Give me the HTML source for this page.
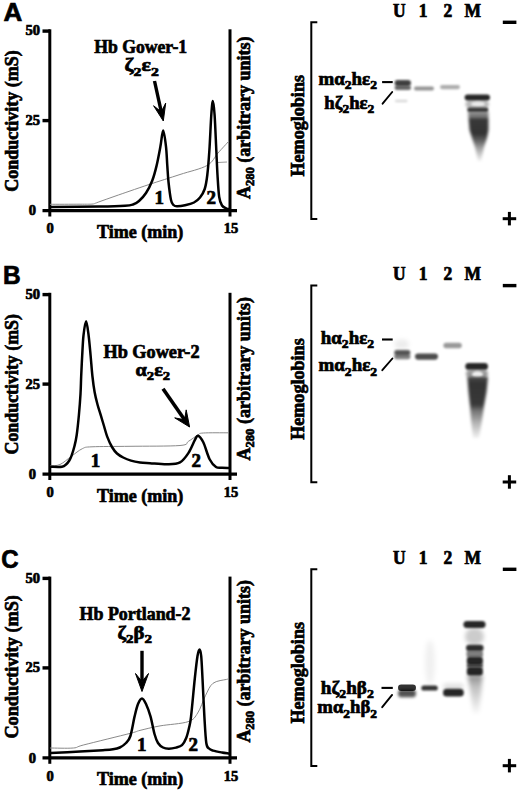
<!DOCTYPE html>
<html><head><meta charset="utf-8"><style>
html,body{margin:0;padding:0;background:#fff;width:520px;height:790px;overflow:hidden}
text{fill:#000;stroke:#000;stroke-width:0.7px}
</style></head><body>
<svg width="520" height="790" viewBox="0 0 520 790" style="position:absolute;left:0;top:0">
<defs>
<filter id="b5" x="-50%" y="-50%" width="200%" height="200%"><feGaussianBlur stdDeviation="0.5"/></filter>
<filter id="b8" x="-50%" y="-50%" width="200%" height="200%"><feGaussianBlur stdDeviation="0.8"/></filter>
<filter id="b10" x="-50%" y="-50%" width="200%" height="200%"><feGaussianBlur stdDeviation="1.0"/></filter>
<filter id="b12" x="-50%" y="-50%" width="200%" height="200%"><feGaussianBlur stdDeviation="1.2"/></filter>
<filter id="b15" x="-50%" y="-50%" width="200%" height="200%"><feGaussianBlur stdDeviation="1.5"/></filter>
<filter id="b20" x="-50%" y="-50%" width="200%" height="200%"><feGaussianBlur stdDeviation="2.0"/></filter>
<filter id="b25" x="-50%" y="-50%" width="200%" height="200%"><feGaussianBlur stdDeviation="2.5"/></filter>
<filter id="b30" x="-50%" y="-50%" width="200%" height="200%"><feGaussianBlur stdDeviation="3.0"/></filter>
<filter id="b40" x="-50%" y="-50%" width="200%" height="200%"><feGaussianBlur stdDeviation="4.0"/></filter>
</defs>
<rect width="520" height="790" fill="#fff"/>
<g fill="#000">
<text x="0" y="0" font-size="25" font-family='"Liberation Sans", sans-serif' font-weight="bold" transform="translate(3.6 20.6) scale(1.04 1)">A</text>
<line x1="49.8" y1="29.3" x2="49.8" y2="216.5" stroke="#000" stroke-width="3"/>
<line x1="42.5" y1="31.1" x2="50" y2="31.1" stroke="#000" stroke-width="3.4"/>
<line x1="42.5" y1="120.6" x2="50" y2="120.6" stroke="#000" stroke-width="3.4"/>
<line x1="42.5" y1="210.6" x2="237" y2="210.6" stroke="#000" stroke-width="3.2"/>
<line x1="230" y1="29.3" x2="230" y2="216.5" stroke="#000" stroke-width="3"/>
<text x="40" y="35.3" font-size="14.5" text-anchor="end" font-family='"Liberation Serif", serif' font-weight="bold" >50</text>
<text x="40" y="125" font-size="14.5" text-anchor="end" font-family='"Liberation Serif", serif' font-weight="bold" >25</text>
<text x="36" y="215.3" font-size="14.5" text-anchor="end" font-family='"Liberation Serif", serif' font-weight="bold" >0</text>
<text x="50.2" y="233.3" font-size="14.5" text-anchor="middle" font-family='"Liberation Serif", serif' font-weight="bold" >0</text>
<text x="231" y="233.3" font-size="14.5" text-anchor="middle" font-family='"Liberation Serif", serif' font-weight="bold" >15</text>
<text x="97" y="237.6" font-size="18.5" text-anchor="start" font-family='"Liberation Serif", serif' font-weight="bold" textLength="86.3" lengthAdjust="spacingAndGlyphs" >Time (min)</text>
<g transform="translate(17.6 191.7) rotate(-90)"><text x="0" y="0" font-size="18.5" font-family='"Liberation Serif", serif' font-weight="bold" textLength="141.5" lengthAdjust="spacingAndGlyphs">Conductivity (mS)</text></g>
<g transform="translate(250 199) rotate(-90)"><text x="0" y="0" font-size="18" font-family='"Liberation Serif", serif' font-weight="bold" textLength="162.5" lengthAdjust="spacingAndGlyphs">A<tspan font-size="12.5" dy="3.5">280</tspan><tspan dy="-3.5"> (arbitrary units)</tspan></text></g>
<path d="M50.00,204.30 C55.00,204.28 73.00,204.23 80.00,204.20 C87.00,204.17 89.42,204.27 92.00,204.10 C94.58,203.93 94.17,203.63 95.50,203.20 C96.83,202.77 96.75,202.67 100.00,201.50 C103.25,200.33 110.00,197.95 115.00,196.20 C120.00,194.45 124.17,193.00 130.00,191.00 C135.83,189.00 141.67,186.95 150.00,184.20 C158.33,181.45 170.50,177.62 180.00,174.50 C189.50,171.38 200.67,169.08 207.00,165.50 C213.33,161.92 214.33,157.08 218.00,153.00 C221.67,148.92 227.17,143.00 229.00,141.00" fill="none" stroke="#8a8a8a" stroke-width="1.0"/>
<line x1="218" y1="162.5" x2="227" y2="162" stroke="#9a9a9a" stroke-width="1"/>
<path d="M50.50,207.00 C58.75,206.93 87.58,206.80 100.00,206.60 C112.42,206.40 119.50,206.15 125.00,205.80 C130.50,205.45 130.67,205.30 133.00,204.50 C135.33,203.70 136.83,202.92 139.00,201.00 C141.17,199.08 143.80,196.37 146.00,193.00 C148.20,189.63 150.43,185.37 152.20,180.80 C153.97,176.23 155.23,171.30 156.60,165.60 C157.97,159.90 159.30,152.45 160.40,146.60 C161.50,140.75 162.27,130.50 163.20,130.50 C164.13,130.50 165.32,140.75 166.00,146.60 C166.68,152.45 166.88,159.70 167.30,165.60 C167.72,171.50 167.88,176.27 168.50,182.00 C169.12,187.73 170.17,196.17 171.00,200.00 C171.83,203.83 172.50,203.95 173.50,205.00 C174.50,206.05 175.08,206.25 177.00,206.30 C178.92,206.35 182.17,205.93 185.00,205.30 C187.83,204.67 191.50,203.80 194.00,202.50 C196.50,201.20 198.22,199.75 200.00,197.50 C201.78,195.25 203.48,192.75 204.70,189.00 C205.92,185.25 206.52,181.50 207.30,175.00 C208.08,168.50 208.73,160.00 209.40,150.00 C210.07,140.00 210.72,123.17 211.30,115.00 C211.88,106.83 212.35,101.00 212.90,101.00 C213.45,101.00 214.03,106.83 214.60,115.00 C215.17,123.17 215.82,140.00 216.30,150.00 C216.78,160.00 217.02,167.17 217.50,175.00 C217.98,182.83 218.45,191.92 219.20,197.00 C219.95,202.08 220.78,203.58 222.00,205.50 C223.22,207.42 225.38,207.92 226.50,208.50 C227.62,209.08 228.33,208.92 228.70,209.00" fill="none" stroke="#000" stroke-width="2.5" stroke-linejoin="round" stroke-linecap="round"/>
<text x="154.6" y="204.2" font-size="19" text-anchor="start" font-family='"Liberation Serif", serif' font-weight="bold" >1</text>
<text x="206.5" y="203.5" font-size="19" text-anchor="start" font-family='"Liberation Serif", serif' font-weight="bold" >2</text>
<text x="94.2" y="52.8" font-size="18" text-anchor="start" font-family='"Liberation Serif", serif' font-weight="bold" textLength="93" lengthAdjust="spacingAndGlyphs" >Hb Gower-1</text>
<text x="124.6" y="71.3" font-size="18" text-anchor="start" font-family='"Liberation Serif", serif' font-weight="bold" textLength="34.2" lengthAdjust="spacingAndGlyphs" ><tspan dy="0">&#950;</tspan><tspan font-size="13" dy="4.5">2</tspan><tspan dy="-4.5">&#949;</tspan><tspan font-size="13" dy="4.5">2</tspan></text>
<line x1="154.5" y1="81" x2="161.29" y2="111.87" stroke="#000" stroke-width="3.4"/>
<polygon points="163.3,121 153.59,105.73 161.29,111.87 165.70,103.06" fill="#000" stroke="#000" stroke-width="1" stroke-linejoin="round"/>
<text x="0" y="0" font-size="17.5" font-family='"Liberation Serif", serif' font-weight="bold" transform="translate(393 16.6) scale(1 1.04)">U</text>
<text x="0" y="0" font-size="17.5" font-family='"Liberation Serif", serif' font-weight="bold" transform="translate(418.8 16.6) scale(1 1.04)">1</text>
<text x="0" y="0" font-size="17.5" font-family='"Liberation Serif", serif' font-weight="bold" transform="translate(443.5 16.6) scale(1 1.04)">2</text>
<text x="0" y="0" font-size="17.5" font-family='"Liberation Serif", serif' font-weight="bold" transform="translate(464.5 16.6) scale(1 1.04)">M</text>
<rect x="502.8" y="20.6" width="13.6" height="3.4" fill="#000"/>
<rect x="502.7" y="217.2" width="13.5" height="3" fill="#000"/>
<rect x="507.9" y="211.9" width="3" height="13.5" fill="#000"/>
<path d="M317.3,22.3 H311.3 V218.9 H317.3" fill="none" stroke="#000" stroke-width="2"/>
<g transform="translate(304.3 176.5) rotate(-90)"><text x="0" y="0" font-size="18" font-family='"Liberation Serif", serif' font-weight="bold" textLength="101.5" lengthAdjust="spacingAndGlyphs">Hemoglobins</text></g>
<text x="318.5" y="84.9" font-size="18" text-anchor="start" font-family='"Liberation Serif", serif' font-weight="bold" textLength="58.5" lengthAdjust="spacingAndGlyphs" ><tspan dy="0">m&#945;</tspan><tspan font-size="13" dy="4.5">2</tspan><tspan dy="-4.5">h&#949;</tspan><tspan font-size="13" dy="4.5">2</tspan></text>
<text x="324.3" y="108.8" font-size="18" text-anchor="start" font-family='"Liberation Serif", serif' font-weight="bold" textLength="50" lengthAdjust="spacingAndGlyphs" ><tspan dy="0">h&#950;</tspan><tspan font-size="13" dy="4.5">2</tspan><tspan dy="-4.5">h&#949;</tspan><tspan font-size="13" dy="4.5">2</tspan></text>
<line x1="382.1" y1="82.1" x2="392.7" y2="82.1" stroke="#000" stroke-width="2.1"/>
<line x1="382.6" y1="103.7" x2="392.2" y2="92" stroke="#000" stroke-width="1.9" stroke-linecap="round"/>
<rect x="394.6" y="80" width="16.399999999999977" height="6" rx="3.0" fill="#000" fill-opacity="0.75" filter="url(#b10)"/>
<rect x="394.6" y="85.5" width="16.399999999999977" height="4.5" rx="2.25" fill="#000" fill-opacity="0.6" filter="url(#b10)"/>
<rect x="395" y="99.8" width="12.5" height="2.4000000000000057" rx="1.2000000000000028" fill="#000" fill-opacity="0.15" filter="url(#b10)"/>
<rect x="414" y="86.6" width="20" height="4.0" rx="2.0" fill="#000" fill-opacity="0.42" filter="url(#b10)"/>
<rect x="440" y="85" width="20" height="4.200000000000003" rx="2.1000000000000014" fill="#000" fill-opacity="0.32" filter="url(#b10)"/>
<rect x="464.6" y="94.4" width="25.399999999999977" height="6.0" rx="3.0" fill="#000" fill-opacity="0.85" filter="url(#b10)"/>
<rect x="465.5" y="100" width="23.5" height="8.5" rx="4.25" fill="#000" fill-opacity="0.28" filter="url(#b15)"/>
<ellipse cx="478" cy="104" rx="7" ry="2.6" fill="#fff" fill-opacity="0.7" filter="url(#b12)"/>
<rect x="467.2" y="107.6" width="21.19999999999999" height="4.400000000000006" rx="2.200000000000003" fill="#000" fill-opacity="0.75" filter="url(#b10)"/>
<linearGradient id="g1" x1="0" y1="0" x2="0" y2="1"><stop offset="0" stop-color="#000" stop-opacity="0.45"/><stop offset="0.12" stop-color="#000" stop-opacity="0.55"/><stop offset="0.15" stop-color="#000" stop-opacity="0.78"/><stop offset="0.45" stop-color="#000" stop-opacity="0.8"/><stop offset="0.6" stop-color="#000" stop-opacity="0.6"/><stop offset="0.75" stop-color="#000" stop-opacity="0.35"/><stop offset="1" stop-color="#000" stop-opacity="0.05"/></linearGradient>
<path d="M468,111.5 488.5,111.5 488.5,130 487,138 484,147 481,161 478,161 475,147 472,138 469.5,130 Z" fill="url(#g1)" filter="url(#b15)"/>
<text x="0" y="0" font-size="25" font-family='"Liberation Sans", sans-serif' font-weight="bold" transform="translate(3 283.7) scale(0.98 1)">B</text>
<line x1="49.8" y1="292.8" x2="49.8" y2="480.0" stroke="#000" stroke-width="3"/>
<line x1="42.5" y1="294.6" x2="50" y2="294.6" stroke="#000" stroke-width="3.4"/>
<line x1="42.5" y1="384.1" x2="50" y2="384.1" stroke="#000" stroke-width="3.4"/>
<line x1="42.5" y1="474.1" x2="237" y2="474.1" stroke="#000" stroke-width="3.2"/>
<line x1="230" y1="292.8" x2="230" y2="480.0" stroke="#000" stroke-width="3"/>
<text x="40" y="298.8" font-size="14.5" text-anchor="end" font-family='"Liberation Serif", serif' font-weight="bold" >50</text>
<text x="40" y="388.5" font-size="14.5" text-anchor="end" font-family='"Liberation Serif", serif' font-weight="bold" >25</text>
<text x="36" y="478.8" font-size="14.5" text-anchor="end" font-family='"Liberation Serif", serif' font-weight="bold" >0</text>
<text x="50.2" y="496.8" font-size="14.5" text-anchor="middle" font-family='"Liberation Serif", serif' font-weight="bold" >0</text>
<text x="231" y="496.8" font-size="14.5" text-anchor="middle" font-family='"Liberation Serif", serif' font-weight="bold" >15</text>
<text x="97" y="501.9" font-size="18.5" text-anchor="start" font-family='"Liberation Serif", serif' font-weight="bold" textLength="86.3" lengthAdjust="spacingAndGlyphs" >Time (min)</text>
<g transform="translate(17.6 454.5) rotate(-90)"><text x="0" y="0" font-size="18.5" font-family='"Liberation Serif", serif' font-weight="bold" textLength="140.5" lengthAdjust="spacingAndGlyphs">Conductivity (mS)</text></g>
<g transform="translate(250 460.5) rotate(-90)"><text x="0" y="0" font-size="18" font-family='"Liberation Serif", serif' font-weight="bold" textLength="163.5" lengthAdjust="spacingAndGlyphs">A<tspan font-size="12.5" dy="3.5">280</tspan><tspan dy="-3.5"> (arbitrary units)</tspan></text></g>
<path d="M50.00,465.90 C51.67,465.67 56.42,466.12 60.00,464.50 C63.58,462.88 67.78,458.83 71.50,456.20 C75.22,453.57 78.88,450.27 82.30,448.70 C85.72,447.13 84.05,447.20 92.00,446.80 C99.95,446.40 115.33,446.52 130.00,446.30 C144.67,446.08 170.25,446.33 180.00,445.50 C189.75,444.67 185.50,443.07 188.50,441.30 C191.50,439.53 195.53,436.28 198.00,434.90 C200.47,433.52 198.30,433.35 203.30,433.00 C208.30,432.65 223.88,432.83 228.00,432.80" fill="none" stroke="#8a8a8a" stroke-width="1.0"/>
<path d="M50.50,466.80 C52.42,466.80 59.37,467.23 62.00,466.80 C64.63,466.37 65.08,465.25 66.30,464.20 C67.52,463.15 68.43,461.90 69.30,460.50 C70.17,459.10 70.63,458.22 71.50,455.80 C72.37,453.38 73.63,449.47 74.50,446.00 C75.37,442.53 75.97,440.17 76.70,435.00 C77.43,429.83 78.27,421.83 78.90,415.00 C79.53,408.17 80.12,400.53 80.50,394.00 C80.88,387.47 80.92,382.22 81.20,375.80 C81.48,369.38 81.82,362.25 82.20,355.50 C82.58,348.75 82.85,341.00 83.50,335.30 C84.15,329.60 85.25,321.30 86.10,321.30 C86.95,321.30 87.85,329.60 88.60,335.30 C89.35,341.00 89.97,348.72 90.60,355.50 C91.23,362.28 91.73,369.92 92.40,376.00 C93.07,382.08 93.75,387.25 94.60,392.00 C95.45,396.75 96.45,400.55 97.50,404.50 C98.55,408.45 99.82,412.12 100.90,415.70 C101.98,419.28 102.95,422.52 104.00,426.00 C105.05,429.48 105.87,433.10 107.20,436.60 C108.53,440.10 110.37,444.18 112.00,447.00 C113.63,449.82 115.13,451.75 117.00,453.50 C118.87,455.25 120.87,456.32 123.20,457.50 C125.53,458.68 128.20,459.78 131.00,460.60 C133.80,461.42 136.83,461.97 140.00,462.40 C143.17,462.83 145.45,462.88 150.00,463.20 C154.55,463.52 162.30,464.43 167.30,464.30 C172.30,464.17 176.47,464.30 180.00,462.40 C183.53,460.50 186.03,456.60 188.50,452.90 C190.97,449.20 193.22,443.07 194.80,440.20 C196.38,437.33 196.58,435.35 198.00,435.70 C199.42,436.05 201.37,438.38 203.30,442.30 C205.23,446.22 207.48,455.08 209.60,459.20 C211.72,463.32 213.93,465.57 216.00,467.00 C218.07,468.43 219.88,467.63 222.00,467.80 C224.12,467.97 227.58,467.97 228.70,468.00" fill="none" stroke="#000" stroke-width="2.5" stroke-linejoin="round" stroke-linecap="round"/>
<text x="90.7" y="467.2" font-size="19" text-anchor="start" font-family='"Liberation Serif", serif' font-weight="bold" >1</text>
<text x="191.6" y="467.3" font-size="19" text-anchor="start" font-family='"Liberation Serif", serif' font-weight="bold" >2</text>
<text x="103.5" y="357.7" font-size="18" text-anchor="start" font-family='"Liberation Serif", serif' font-weight="bold" textLength="96" lengthAdjust="spacingAndGlyphs" >Hb Gower-2</text>
<text x="135.6" y="375.8" font-size="18" text-anchor="start" font-family='"Liberation Serif", serif' font-weight="bold" textLength="34.5" lengthAdjust="spacingAndGlyphs" ><tspan dy="0">&#945;</tspan><tspan font-size="13" dy="4.5">2</tspan><tspan dy="-4.5">&#949;</tspan><tspan font-size="13" dy="4.5">2</tspan></text>
<line x1="163" y1="388.8" x2="184.57" y2="419.78" stroke="#000" stroke-width="3.6"/>
<polygon points="189.6,427 174.71,417.87 184.57,419.78 186.20,409.87" fill="#000" stroke="#000" stroke-width="1" stroke-linejoin="round"/>
<text x="0" y="0" font-size="17.5" font-family='"Liberation Serif", serif' font-weight="bold" transform="translate(393 279.90000000000003) scale(1 1.04)">U</text>
<text x="0" y="0" font-size="17.5" font-family='"Liberation Serif", serif' font-weight="bold" transform="translate(418.8 279.90000000000003) scale(1 1.04)">1</text>
<text x="0" y="0" font-size="17.5" font-family='"Liberation Serif", serif' font-weight="bold" transform="translate(443.5 279.90000000000003) scale(1 1.04)">2</text>
<text x="0" y="0" font-size="17.5" font-family='"Liberation Serif", serif' font-weight="bold" transform="translate(464.5 279.90000000000003) scale(1 1.04)">M</text>
<rect x="502.8" y="283.90000000000003" width="13.6" height="3.4" fill="#000"/>
<rect x="502.7" y="480.5" width="13.5" height="3" fill="#000"/>
<rect x="507.9" y="475.20000000000005" width="3" height="13.5" fill="#000"/>
<path d="M317.3,285.6 H311.3 V482.20000000000005 H317.3" fill="none" stroke="#000" stroke-width="2"/>
<g transform="translate(304.3 439.8) rotate(-90)"><text x="0" y="0" font-size="18" font-family='"Liberation Serif", serif' font-weight="bold" textLength="101.5" lengthAdjust="spacingAndGlyphs">Hemoglobins</text></g>
<text x="320.8" y="343.8" font-size="18" text-anchor="start" font-family='"Liberation Serif", serif' font-weight="bold" textLength="53.3" lengthAdjust="spacingAndGlyphs" ><tspan dy="0">h&#945;</tspan><tspan font-size="13" dy="4.5">2</tspan><tspan dy="-4.5">h&#949;</tspan><tspan font-size="13" dy="4.5">2</tspan></text>
<text x="318.5" y="371.3" font-size="18" text-anchor="start" font-family='"Liberation Serif", serif' font-weight="bold" textLength="58.7" lengthAdjust="spacingAndGlyphs" ><tspan dy="0">m&#945;</tspan><tspan font-size="13" dy="4.5">2</tspan><tspan dy="-4.5">h&#949;</tspan><tspan font-size="13" dy="4.5">2</tspan></text>
<line x1="382" y1="339.5" x2="392.7" y2="339.5" stroke="#000" stroke-width="2.1"/>
<line x1="382.3" y1="370.2" x2="392.4" y2="358.5" stroke="#000" stroke-width="1.9" stroke-linecap="round"/>
<rect x="394.5" y="339.5" width="14.5" height="9.5" rx="4.75" fill="#000" fill-opacity="0.07" filter="url(#b20)"/>
<rect x="394.2" y="350" width="16.19999999999999" height="5" rx="2.5" fill="#000" fill-opacity="0.65" filter="url(#b10)"/>
<rect x="394.2" y="354" width="16.19999999999999" height="5.199999999999989" rx="2.5999999999999943" fill="#000" fill-opacity="0.5" filter="url(#b10)"/>
<rect x="415" y="353.5" width="23" height="6.199999999999989" rx="3.0999999999999943" fill="#000" fill-opacity="0.7" filter="url(#b10)"/>
<rect x="443.4" y="342.8" width="18.400000000000034" height="5.399999999999977" rx="2.6999999999999886" fill="#000" fill-opacity="0.4" filter="url(#b10)"/>
<rect x="465.3" y="363" width="22.69999999999999" height="6.800000000000011" rx="3.4000000000000057" fill="#000" fill-opacity="0.85" filter="url(#b10)"/>
<rect x="466" y="369.5" width="22" height="8.5" rx="4.25" fill="#000" fill-opacity="0.4" filter="url(#b15)"/>
<ellipse cx="477.5" cy="374.5" rx="5.5" ry="3.2" fill="#fff" fill-opacity="0.85" filter="url(#b12)"/>
<linearGradient id="g2" x1="0" y1="0" x2="0" y2="1"><stop offset="0" stop-color="#000" stop-opacity="0.7"/><stop offset="0.1" stop-color="#000" stop-opacity="0.8"/><stop offset="0.45" stop-color="#000" stop-opacity="0.78"/><stop offset="0.55" stop-color="#000" stop-opacity="0.55"/><stop offset="0.75" stop-color="#000" stop-opacity="0.3"/><stop offset="1" stop-color="#000" stop-opacity="0.05"/></linearGradient>
<path d="M467.3,377 488,377 486.5,392 484,406 482,420 479,438 473,438 471,420 470,406 468.5,392 Z" fill="url(#g2)" filter="url(#b15)"/>
<text x="0" y="0" font-size="25" font-family='"Liberation Sans", sans-serif' font-weight="bold" transform="translate(1.3 567.9) scale(0.96 1)">C</text>
<line x1="49.8" y1="576.5999999999999" x2="49.8" y2="763.8" stroke="#000" stroke-width="3"/>
<line x1="42.5" y1="578.4" x2="50" y2="578.4" stroke="#000" stroke-width="3.4"/>
<line x1="42.5" y1="667.9" x2="50" y2="667.9" stroke="#000" stroke-width="3.4"/>
<line x1="42.5" y1="757.9" x2="237" y2="757.9" stroke="#000" stroke-width="3.2"/>
<line x1="230" y1="576.5999999999999" x2="230" y2="763.8" stroke="#000" stroke-width="3"/>
<text x="40" y="582.5999999999999" font-size="14.5" text-anchor="end" font-family='"Liberation Serif", serif' font-weight="bold" >50</text>
<text x="40" y="672.3" font-size="14.5" text-anchor="end" font-family='"Liberation Serif", serif' font-weight="bold" >25</text>
<text x="36" y="762.5999999999999" font-size="14.5" text-anchor="end" font-family='"Liberation Serif", serif' font-weight="bold" >0</text>
<text x="50.2" y="780.5999999999999" font-size="14.5" text-anchor="middle" font-family='"Liberation Serif", serif' font-weight="bold" >0</text>
<text x="231" y="780.5999999999999" font-size="14.5" text-anchor="middle" font-family='"Liberation Serif", serif' font-weight="bold" >15</text>
<text x="97" y="784.9" font-size="18.5" text-anchor="start" font-family='"Liberation Serif", serif' font-weight="bold" textLength="86.3" lengthAdjust="spacingAndGlyphs" >Time (min)</text>
<g transform="translate(17.6 738.5999999999999) rotate(-90)"><text x="0" y="0" font-size="18.5" font-family='"Liberation Serif", serif' font-weight="bold" textLength="143.5" lengthAdjust="spacingAndGlyphs">Conductivity (mS)</text></g>
<g transform="translate(250 742.5999999999999) rotate(-90)"><text x="0" y="0" font-size="18" font-family='"Liberation Serif", serif' font-weight="bold" textLength="162.5" lengthAdjust="spacingAndGlyphs">A<tspan font-size="12.5" dy="3.5">280</tspan><tspan dy="-3.5"> (arbitrary units)</tspan></text></g>
<path d="M50.00,748.00 C53.88,748.00 67.67,748.52 73.30,748.00 C78.93,747.48 74.28,747.35 83.80,744.90 C93.32,742.45 121.03,735.72 130.40,733.30 C139.77,730.88 135.07,731.63 140.00,730.40 C144.93,729.17 152.00,727.35 160.00,725.90 C168.00,724.45 181.72,723.85 188.00,721.70 C194.28,719.55 194.80,717.32 197.70,713.00 C200.60,708.68 202.85,700.75 205.40,695.80 C207.95,690.85 209.48,686.03 213.00,683.30 C216.52,680.57 223.83,680.08 226.50,679.40 C229.17,678.72 228.58,679.23 229.00,679.20" fill="none" stroke="#8a8a8a" stroke-width="1.0"/>
<path d="M50.50,753.00 C55.42,752.75 71.27,751.97 80.00,751.50 C88.73,751.03 97.40,750.57 102.90,750.20 C108.40,749.83 110.18,749.75 113.00,749.30 C115.82,748.85 117.63,748.55 119.80,747.50 C121.97,746.45 124.23,744.92 126.00,743.00 C127.77,741.08 128.97,740.43 130.40,736.00 C131.83,731.57 133.33,721.73 134.60,716.40 C135.87,711.07 136.77,707.00 138.00,704.00 C139.23,701.00 140.67,698.40 142.00,698.40 C143.33,698.40 144.58,701.00 146.00,704.00 C147.42,707.00 149.08,711.40 150.50,716.40 C151.92,721.40 153.25,729.57 154.50,734.00 C155.75,738.43 156.58,740.75 158.00,743.00 C159.42,745.25 161.20,746.55 163.00,747.50 C164.80,748.45 166.63,748.68 168.80,748.70 C170.97,748.72 173.80,748.18 176.00,747.60 C178.20,747.02 180.30,746.80 182.00,745.20 C183.70,743.60 185.03,740.87 186.20,738.00 C187.37,735.13 188.20,731.52 189.00,728.00 C189.80,724.48 190.03,725.15 191.00,716.90 C191.97,708.65 193.72,688.65 194.80,678.50 C195.88,668.35 196.70,660.82 197.50,656.00 C198.30,651.18 198.98,649.60 199.60,649.60 C200.22,649.60 200.72,651.18 201.20,656.00 C201.68,660.82 201.97,668.35 202.50,678.50 C203.03,688.65 203.77,706.15 204.40,716.90 C205.03,727.65 205.53,737.73 206.30,743.00 C207.07,748.27 207.87,747.23 209.00,748.50 C210.13,749.77 210.93,749.93 213.10,750.60 C215.27,751.27 219.43,752.02 222.00,752.50 C224.57,752.98 227.42,753.33 228.50,753.50" fill="none" stroke="#000" stroke-width="2.5" stroke-linejoin="round" stroke-linecap="round"/>
<text x="137" y="750.6" font-size="19" text-anchor="start" font-family='"Liberation Serif", serif' font-weight="bold" >1</text>
<text x="188.5" y="750.6" font-size="19" text-anchor="start" font-family='"Liberation Serif", serif' font-weight="bold" >2</text>
<text x="79.5" y="620.3" font-size="18" text-anchor="start" font-family='"Liberation Serif", serif' font-weight="bold" textLength="111" lengthAdjust="spacingAndGlyphs" >Hb Portland-2</text>
<text x="117.4" y="638.6" font-size="18" text-anchor="start" font-family='"Liberation Serif", serif' font-weight="bold" textLength="34.6" lengthAdjust="spacingAndGlyphs" ><tspan dy="0">&#950;</tspan><tspan font-size="13" dy="4.5">2</tspan><tspan dy="-4.5">&#946;</tspan><tspan font-size="13" dy="4.5">2</tspan></text>
<line x1="142" y1="650.8" x2="142.00" y2="681.60" stroke="#000" stroke-width="3.4"/>
<polygon points="142,691.5 135.50,673.50 142.00,681.60 148.50,673.50" fill="#000" stroke="#000" stroke-width="1" stroke-linejoin="round"/>
<text x="0" y="0" font-size="17.5" font-family='"Liberation Serif", serif' font-weight="bold" transform="translate(393 563.6) scale(1 1.04)">U</text>
<text x="0" y="0" font-size="17.5" font-family='"Liberation Serif", serif' font-weight="bold" transform="translate(418.8 563.6) scale(1 1.04)">1</text>
<text x="0" y="0" font-size="17.5" font-family='"Liberation Serif", serif' font-weight="bold" transform="translate(443.5 563.6) scale(1 1.04)">2</text>
<text x="0" y="0" font-size="17.5" font-family='"Liberation Serif", serif' font-weight="bold" transform="translate(464.5 563.6) scale(1 1.04)">M</text>
<rect x="502.8" y="567.6" width="13.6" height="3.4" fill="#000"/>
<rect x="502.7" y="764.2" width="13.5" height="3" fill="#000"/>
<rect x="507.9" y="758.9" width="3" height="13.5" fill="#000"/>
<path d="M317.3,569.3 H311.3 V765.9 H317.3" fill="none" stroke="#000" stroke-width="2"/>
<g transform="translate(304.3 723.5) rotate(-90)"><text x="0" y="0" font-size="18" font-family='"Liberation Serif", serif' font-weight="bold" textLength="101.5" lengthAdjust="spacingAndGlyphs">Hemoglobins</text></g>
<text x="320.8" y="693.8" font-size="18" text-anchor="start" font-family='"Liberation Serif", serif' font-weight="bold" textLength="53" lengthAdjust="spacingAndGlyphs" ><tspan dy="0">h&#950;</tspan><tspan font-size="13" dy="4.5">2</tspan><tspan dy="-4.5">h&#946;</tspan><tspan font-size="13" dy="4.5">2</tspan></text>
<text x="317.3" y="713.4" font-size="18" text-anchor="start" font-family='"Liberation Serif", serif' font-weight="bold" textLength="59.8" lengthAdjust="spacingAndGlyphs" ><tspan dy="0">m&#945;</tspan><tspan font-size="13" dy="4.5">2</tspan><tspan dy="-4.5">h&#946;</tspan><tspan font-size="13" dy="4.5">2</tspan></text>
<line x1="381.5" y1="687.9" x2="392.8" y2="687.9" stroke="#000" stroke-width="2.1"/>
<line x1="382.2" y1="707.2" x2="392.1" y2="694.9" stroke="#000" stroke-width="1.9" stroke-linecap="round"/>
<rect x="398" y="684.5" width="18" height="6.5" rx="3.25" fill="#000" fill-opacity="0.8" filter="url(#b13)"/>
<rect x="398" y="689.5" width="18" height="7.7999999999999545" rx="3.8999999999999773" fill="#000" fill-opacity="0.68" filter="url(#b15)"/>
<rect x="425" y="640" width="10" height="45" rx="22.5" fill="#000" fill-opacity="0.06" filter="url(#b25)"/>
<rect x="421.3" y="685.4" width="16.5" height="5.2000000000000455" rx="2.6000000000000227" fill="#000" fill-opacity="0.8" filter="url(#b12)"/>
<rect x="443" y="683.5" width="20.80000000000001" height="6.0" rx="3.0" fill="#000" fill-opacity="0.12" filter="url(#b20)"/>
<rect x="443" y="688.8" width="20.80000000000001" height="7.7000000000000455" rx="3.8500000000000227" fill="#000" fill-opacity="0.85" filter="url(#b12)"/>
<rect x="463.4" y="621" width="22.200000000000045" height="7.100000000000023" rx="3.5500000000000114" fill="#000" fill-opacity="0.85" filter="url(#b10)"/>
<rect x="465" y="628" width="19" height="17" rx="8.5" fill="#000" fill-opacity="0.2" filter="url(#b20)"/>
<rect x="466" y="644.8" width="17.600000000000023" height="6.300000000000068" rx="3.150000000000034" fill="#000" fill-opacity="0.82" filter="url(#b10)"/>
<rect x="466.5" y="650.5" width="16.5" height="7.0" rx="2" fill="#000" fill-opacity="0.5" filter="url(#b12)"/>
<rect x="466.8" y="656.7" width="16.099999999999966" height="8.299999999999955" rx="3" fill="#000" fill-opacity="0.85" filter="url(#b12)"/>
<rect x="466.8" y="664" width="16.099999999999966" height="3.5" rx="1" fill="#000" fill-opacity="0.7" filter="url(#b12)"/>
<rect x="466.8" y="667" width="16.099999999999966" height="8.5" rx="3" fill="#000" fill-opacity="0.85" filter="url(#b12)"/>
<linearGradient id="g3" x1="0" y1="0" x2="0" y2="1"><stop offset="0" stop-color="#000" stop-opacity="0.45"/><stop offset="0.3" stop-color="#000" stop-opacity="0.25"/><stop offset="1" stop-color="#000" stop-opacity="0.03"/></linearGradient>
<path d="M467.5,675 482.5,675 481.5,690 479,713 473,713 470,690 Z" fill="url(#g3)" filter="url(#b20)"/>
</g></svg>
</body></html>
